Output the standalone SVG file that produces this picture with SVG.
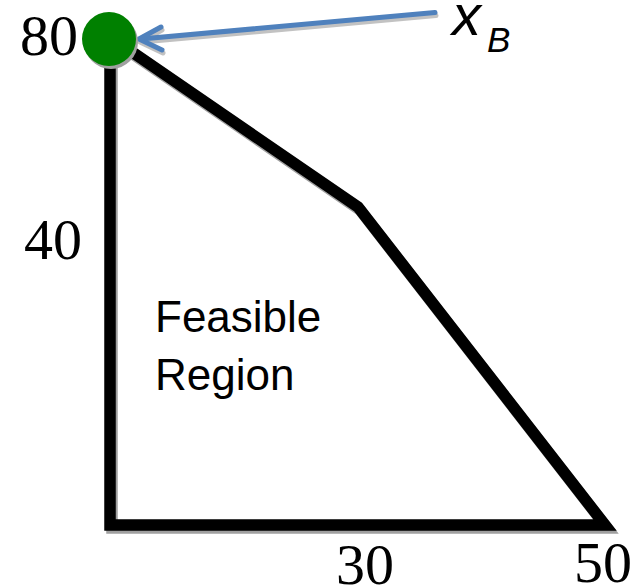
<svg xmlns="http://www.w3.org/2000/svg" width="639" height="586" viewBox="0 0 639 586">
<defs>
<style>
.num{font-family:"Liberation Serif","Times New Roman",serif;font-size:58px;fill:#000}
.lbl{font-family:"Liberation Sans",Arial,sans-serif;font-size:44px;fill:#000}
.xb{font-family:"Liberation Sans",Arial,sans-serif;font-style:italic;fill:#000}
.edge{fill:none;stroke:#000;stroke-width:11.5;stroke-linejoin:miter}
.shadow{fill:none;stroke:#a0a0a0;stroke-width:11.5}
.arrow{fill:none;stroke:#4f81bd;stroke-width:5;stroke-linecap:round;stroke-linejoin:round}
</style>
</defs>
<rect width="639" height="586" fill="#fff"/>
<g id="connectors">
<polyline class="shadow" transform="translate(2,3)" points="110,60 110,525 605,525 358,207 122,45"/>
<polyline class="edge" points="110,60 110,525 605,525 358,207 122,45"/>
<g transform="translate(1,3)" opacity="0.45">
<line class="arrow" style="stroke:#777" x1="435" y1="12.5" x2="141" y2="39"/>
<polyline class="arrow" style="stroke:#777" points="161,27 139,39 162,50"/>
</g>
<line class="arrow" x1="435" y1="12.5" x2="141" y2="39"/>
<polyline class="arrow" points="161,27 139,39 162,50"/>
</g>
<g id="xB-point">
<circle cx="111" cy="42" r="27" fill="#a0a0a0"/>
<circle cx="109" cy="39" r="27" fill="#008000"/>
</g>
<g id="labels">
<text class="num" x="20" y="55">80</text>
<text class="num" x="24" y="259">40</text>
<text class="num" x="336" y="584">30</text>
<text class="num" x="574" y="582">50</text>
<text class="xb" x="452" y="35" font-size="58">x</text>
<text class="xb" x="487" y="52" font-size="35">B</text>
</g>
<g id="feasible-region">
<text class="lbl" x="155" y="332">Feasible</text>
<text class="lbl" x="155" y="390">Region</text>
</g>
</svg>
